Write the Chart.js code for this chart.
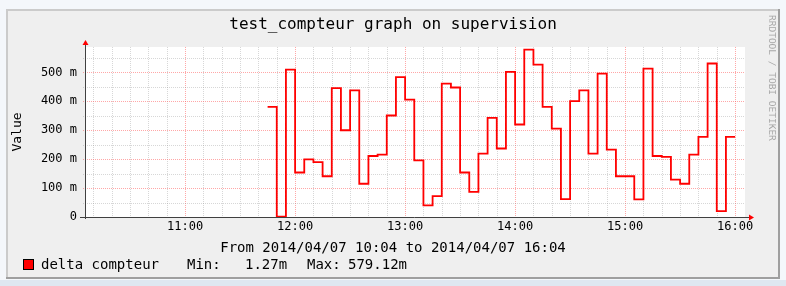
<!DOCTYPE html>
<html>
<head>
<meta charset="utf-8">
<script src="https://cdn.jsdelivr.net/npm/chart.js@4/dist/chart.umd.min.js"></script>
<style>
	body { margin: 0; background: #f4f7fb; }
	#wrap { width: 786px; height: 286px; }
</style>
</head>
<body>
<div id="wrap"><canvas id="rrdChart" width="786" height="286"></canvas></div>
<script>
// data (5 minute steps, values in milli-units)
var sampleStart = '11:45';
var stepMinutes = 5;
var deltaCompteur = [
	381, 1.27, 510, 154, 199, 190, 141, 446, 300, 438,
	115, 211, 216, 351, 484, 406, 196, 40, 72, 461,
	448, 154, 87, 219, 343, 237, 502, 320, 579.12, 527,
	381, 306, 62, 401, 438, 219, 496, 233, 141, 141,
	61, 513, 211, 208, 129, 115, 216, 277, 531, 20,
	277
];
var xTickLabels = ['11:00', '12:00', '13:00', '14:00', '15:00', '16:00'];
var yTickValues = [0, 100, 200, 300, 400, 500];
var legendLabel = 'delta compteur';
var legendMin = '1.27m';
var legendMax = '579.12m';

function toMinutes(hhmm) {
	var p = hhmm.split(':');
	return parseInt(p[0], 10) * 60 + parseInt(p[1], 10);
}
function fmtTime(m) {
	var h = Math.floor(m / 60);
	var mm = m % 60;
	return (h < 10 ? '0' + h : h) + ':' + (mm < 10 ? '0' + mm : mm);
}

var t0 = toMinutes(sampleStart);
var points = deltaCompteur.map(function(v, i) {
	return { x: t0 + i * stepMinutes, y: v };
});
// close the last step
points.push({ x: t0 + deltaCompteur.length * stepMinutes, y: deltaCompteur[deltaCompteur.length - 1] });

var mono = 'DejaVu Sans Mono';

var rrdDecor = {
	id: 'rrdDecor',
	beforeDraw: function(chart) {
		var ctx = chart.ctx;
		var W = chart.width, H = chart.height;
		var a = chart.chartArea;
		ctx.save();
		ctx.fillStyle = '#f4f7fb';
		ctx.fillRect(0, 0, W, H);
		ctx.fillStyle = '#dfe7f1';
		ctx.fillRect(0, 280, W, H - 280);
		// graph box
		ctx.fillStyle = '#efefef';
		ctx.fillRect(6, 9, 774, 270);
		ctx.fillStyle = '#cbcbcb';
		ctx.fillRect(6, 9, 774, 2);
		ctx.fillRect(6, 9, 2, 270);
		ctx.fillStyle = '#9f9f9f';
		ctx.fillRect(6, 277, 774, 2);
		ctx.fillRect(778, 9, 2, 270);
		// canvas
		ctx.fillStyle = '#ffffff';
		ctx.fillRect(a.left, a.top, a.right - a.left, a.bottom - a.top);
		ctx.restore();
	},
	beforeDatasetsDraw: function(chart) {
		var ctx = chart.ctx;
		var a = chart.chartArea;
		var xs = chart.scales.x, ys = chart.scales.y;
		ctx.save();
		ctx.lineWidth = 1;
		ctx.setLineDash([1, 1]);
		// vertical grid, every 10 minutes, red on the hour
		for (var m = Math.ceil(xs.min / 10) * 10; m <= xs.max; m += 10) {
			var px = Math.round(xs.getPixelForValue(m)) + 0.5;
			ctx.strokeStyle = m % 60 === 0 ? 'rgba(255,95,95,0.55)' : 'rgba(140,140,140,0.35)';
			ctx.beginPath();
			ctx.moveTo(px, a.top);
			ctx.lineTo(px, a.bottom + 2);
			ctx.stroke();
		}
		// horizontal grid, every 50, red every 100
		for (var v = 50; v <= ys.max; v += 50) {
			var py = Math.round(ys.getPixelForValue(v)) + 0.5;
			ctx.strokeStyle = v % 100 === 0 ? 'rgba(255,95,95,0.55)' : 'rgba(140,140,140,0.35)';
			ctx.beginPath();
			ctx.moveTo(a.left - 2, py);
			ctx.lineTo(a.right, py);
			ctx.stroke();
		}
		ctx.restore();
	},
	afterDraw: function(chart) {
		var ctx = chart.ctx;
		var a = chart.chartArea;
		ctx.save();
		// axes
		var y0 = Math.round(a.bottom) + 0.5;
		var x0 = Math.round(a.left) + 0.5;
		ctx.strokeStyle = '#404040';
		ctx.lineWidth = 1;
		ctx.beginPath();
		ctx.moveTo(a.left - 5, y0);
		ctx.lineTo(a.right + 4, y0);
		ctx.moveTo(x0, a.bottom + 2);
		ctx.lineTo(x0, a.top - 3);
		ctx.stroke();
		// arrows
		ctx.fillStyle = '#ff0000';
		ctx.beginPath();
		ctx.moveTo(a.right + 4, y0 - 3);
		ctx.lineTo(a.right + 9, y0);
		ctx.lineTo(a.right + 4, y0 + 3);
		ctx.closePath();
		ctx.fill();
		ctx.beginPath();
		ctx.moveTo(x0 - 3, a.top - 2);
		ctx.lineTo(x0, a.top - 7);
		ctx.lineTo(x0 + 3, a.top - 2);
		ctx.closePath();
		ctx.fill();

		// time range line
		ctx.fillStyle = '#000';
		ctx.font = '14px "' + mono + '"';
		ctx.textBaseline = 'middle';
		ctx.textAlign = 'center';
		ctx.fillText('From 2014/04/07 10:04 to 2014/04/07 16:04', 393, 248);

		// legend
		ctx.fillStyle = '#ff0000';
		ctx.fillRect(23, 259, 11, 11);
		ctx.strokeStyle = '#000';
		ctx.strokeRect(23.5, 259.5, 10, 10);
		ctx.fillStyle = '#000';
		ctx.textAlign = 'left';
		ctx.fillText(legendLabel, 41, 265);
		ctx.fillText('Min:', 187, 265);
		ctx.fillText(legendMin, 245, 265);
		ctx.fillText('Max:', 307, 265);
		ctx.fillText(legendMax, 348, 265);

		// watermark
		ctx.translate(771, 15);
		ctx.rotate(Math.PI / 2);
		ctx.fillStyle = '#a6a6a6';
		ctx.font = '9.5px "' + mono + '"';
		ctx.textAlign = 'left';
		ctx.fillText('RRDTOOL / TOBI OETIKER', 0, 0);
		ctx.restore();
	}
};

var ctx = document.getElementById('rrdChart').getContext('2d');
var rrdChart = new Chart(ctx, {
	type: 'line',
	data: {
		datasets: [{
			label: legendLabel,
			data: points,
			stepped: true,
			borderColor: '#ff0000',
			borderWidth: 1.8,
			pointRadius: 0,
			fill: false
		}]
	},
	options: {
		responsive: false,
		animation: false,
		devicePixelRatio: 1,
		layout: { padding: { left: 0, right: 0, top: 9, bottom: 49 } },
		plugins: {
			legend: { display: false },
			tooltip: { enabled: false },
			title: {
				display: true,
				text: 'test_compteur graph on supervision',
				color: '#000',
				font: { family: mono, size: 16, weight: 'normal' },
				padding: { top: 6, bottom: 12.8 }
			}
		},
		scales: {
			x: {
				type: 'linear',
				min: 605.4,
				max: 965.4,
				afterFit: function(scale) { scale.height = 20; },
				afterBuildTicks: function(scale) {
					scale.ticks = xTickLabels.map(function(l) { return { value: toMinutes(l) }; });
				},
				grid: { display: false, drawTicks: false },
				border: { display: false },
				ticks: {
					color: '#000',
					font: { family: mono, size: 12 },
					padding: 3,
					maxRotation: 0,
					callback: function(v) { return fmtTime(v); }
				}
			},
			y: {
				min: 0,
				max: 588,
				afterFit: function(scale) { scale.width = 85; },
				afterBuildTicks: function(scale) {
					scale.ticks = yTickValues.map(function(v) { return { value: v }; });
				},
				grid: { display: false, drawTicks: false },
				border: { display: false },
				title: {
					display: true,
					text: 'Value',
					color: '#000',
					font: { family: mono, size: 13 },
					padding: { top: 10, bottom: 0 }
				},
				ticks: {
					color: '#000',
					font: { family: mono, size: 12 },
					padding: 8,
					callback: function(v) { return v === 0 ? '0' : v + ' m'; }
				}
			},
			// empty right-hand gutter (watermark area), keeps the title centred on the image
			gutter: {
				type: 'linear',
				position: 'right',
				afterFit: function(scale) { scale.width = 41; },
				grid: { display: false, drawTicks: false },
				border: { display: false },
				ticks: { display: false }
			}
		}
	},
	plugins: [rrdDecor]
});
</script>
</body>
</html>
